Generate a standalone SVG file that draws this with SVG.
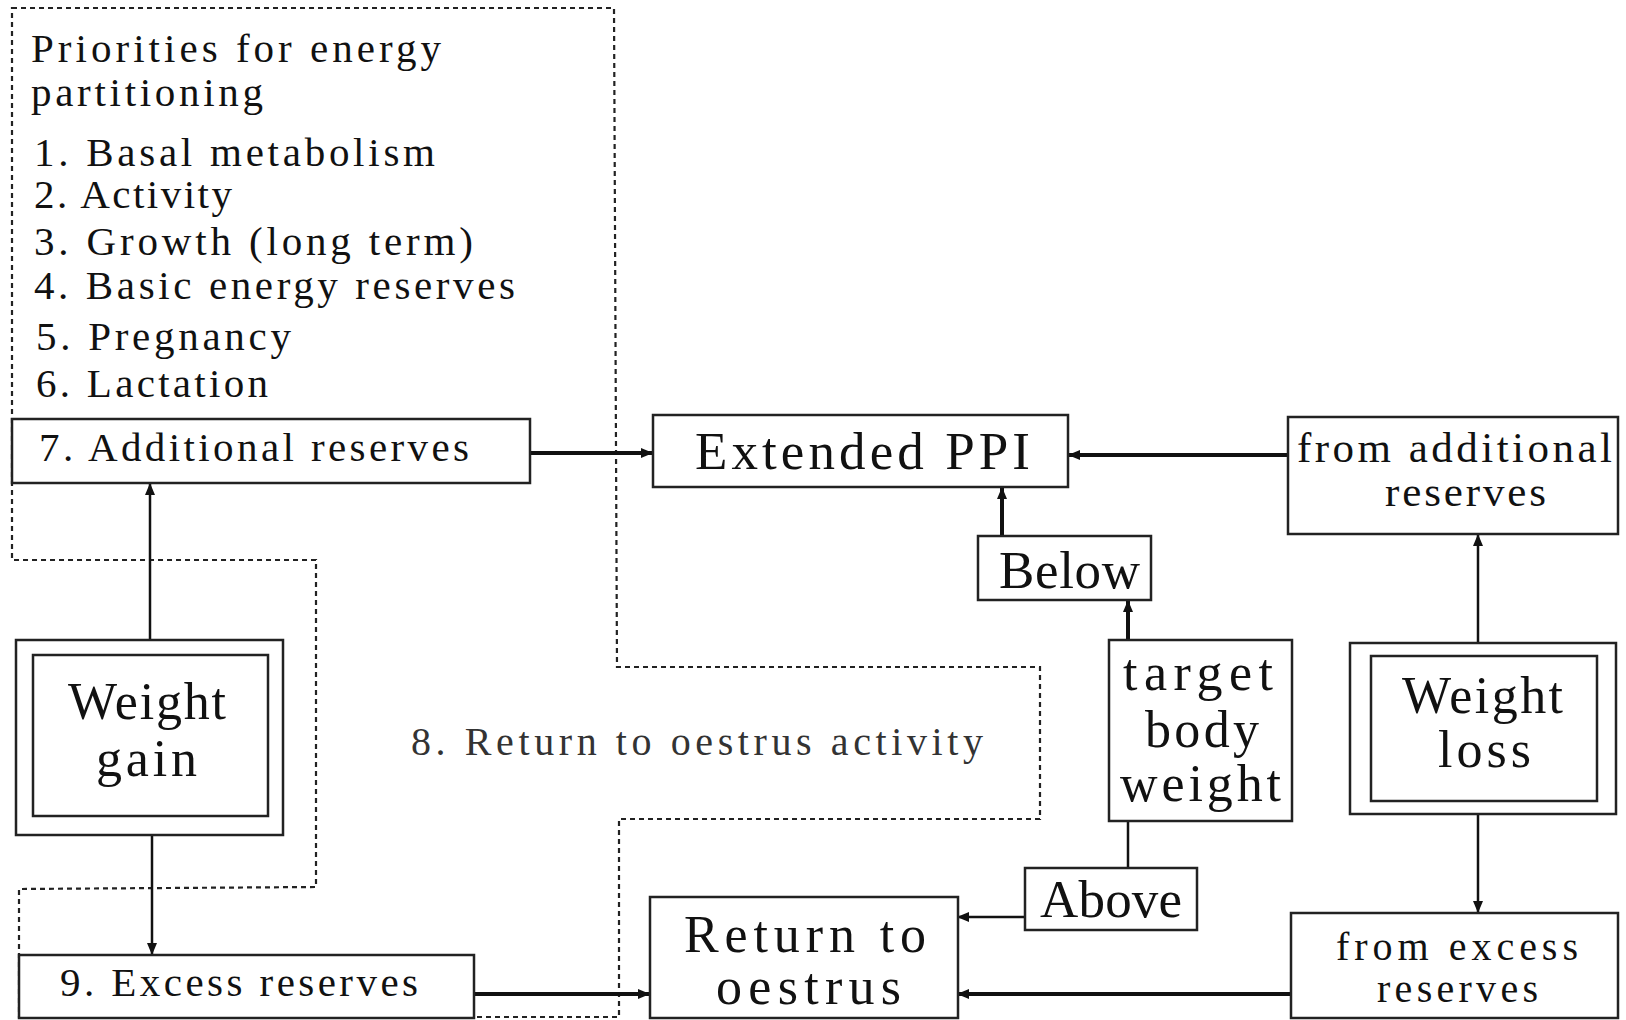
<svg xmlns="http://www.w3.org/2000/svg" width="1626" height="1020" viewBox="0 0 1626 1020">
<defs>
<marker id="ah" viewBox="0 0 12 10" refX="11" refY="5" markerWidth="12" markerHeight="10" markerUnits="userSpaceOnUse" orient="auto">
<path d="M0,0 L12,5 L0,10 Z" fill="#111"/>
</marker>
</defs>
<style>
text{font-family:"Liberation Serif","Times New Roman",serif;fill:#111}
.box{fill:#fff;stroke:#222;stroke-width:2.5}
.dash{fill:none;stroke:#222;stroke-width:2.2;stroke-dasharray:5,4}
.c{fill:none;stroke:#111;stroke-width:2.5;marker-end:url(#ah)}
.ct{fill:none;stroke:#111;stroke-width:4;marker-end:url(#ah)}
.pl{fill:none;stroke:#111;stroke-width:2.5}
.lst{font-size:41px}
.big{font-size:52px}
.mid{font-size:43px}
.sm{font-size:40px}
.xl{font-size:53px}
.lbl8{fill:#333;font-size:40px}
</style>
<rect width="1626" height="1020" fill="#fff"/>

<g id="priorities-region">
<path class="dash" d="M12,8 L614,8 L617,667 L1040,667 L1040,819 L619,819 L619,1017 L19,1017 L19,889 L316,887 L316,560 L12,560 Z"/>
<text class="lst" x="31" y="62" textLength="410" lengthAdjust="spacing">Priorities for energy</text>
<text class="lst" x="31" y="106" textLength="232" lengthAdjust="spacing">partitioning</text>
<text class="lst" x="34" y="166" textLength="401" lengthAdjust="spacing">1. Basal metabolism</text>
<text class="lst" x="34" y="208" textLength="198" lengthAdjust="spacing">2. Activity</text>
<text class="lst" x="34" y="255" textLength="439" lengthAdjust="spacing">3. Growth (long term)</text>
<text class="lst" x="34" y="299" textLength="481" lengthAdjust="spacing">4. Basic energy reserves</text>
<text class="lst" x="36" y="350" textLength="255" lengthAdjust="spacing">5. Pregnancy</text>
<text class="lst" x="36" y="397" textLength="232" lengthAdjust="spacing">6. Lactation</text>
<text class="lbl8" x="411" y="755" textLength="572" lengthAdjust="spacing">8. Return to oestrus activity</text>
</g>

<g id="connectors">
<line class="ct" x1="530" y1="453" x2="652" y2="453"/>
<line class="ct" x1="1288" y1="455" x2="1069" y2="455"/>
<line class="ct" x1="1002" y1="536" x2="1002" y2="488"/>
<line class="ct" x1="1128" y1="640" x2="1128" y2="601"/>
<line class="pl" x1="1128" y1="821" x2="1128" y2="868"/>
<line class="c" x1="1025" y1="917" x2="958" y2="917"/>
<line class="ct" x1="1291" y1="994" x2="958" y2="994"/>
<line class="c" x1="1478" y1="643" x2="1478" y2="535"/>
<line class="c" x1="1478" y1="814" x2="1478" y2="912"/>
<line class="c" x1="150" y1="640" x2="150" y2="484"/>
<line class="c" x1="152" y1="835" x2="152" y2="954"/>
<line class="ct" x1="474" y1="994" x2="649" y2="994"/>
</g>

<g id="additional-reserves">
<rect class="box" x="12" y="419" width="518" height="64"/>
<text class="lst" x="39" y="461" textLength="430" lengthAdjust="spacing">7. Additional reserves</text>
</g>

<g id="extended-ppi">
<rect class="box" x="653" y="415" width="415" height="72"/>
<text class="xl" x="695" y="469" textLength="335" lengthAdjust="spacing">Extended PPI</text>
</g>

<g id="from-additional">
<rect class="box" x="1288" y="417" width="330" height="117"/>
<text class="mid" x="1297" y="462" textLength="315" lengthAdjust="spacing">from additional</text>
<text class="mid" x="1385" y="506" textLength="161" lengthAdjust="spacing">reserves</text>
</g>

<g id="below">
<rect class="box" x="978" y="536" width="173" height="64"/>
<text class="xl" x="999" y="588" textLength="141" lengthAdjust="spacing">Below</text>
</g>

<g id="target-body-weight">
<rect class="box" x="1109" y="640" width="183" height="181"/>
<text class="big" x="1123" y="690" textLength="150" lengthAdjust="spacing">target</text>
<text class="big" x="1145" y="747" textLength="114" lengthAdjust="spacing">body</text>
<text class="big" x="1120" y="801" textLength="161" lengthAdjust="spacing">weight</text>
</g>

<g id="weight-loss">
<rect class="box" x="1350" y="643" width="266" height="171"/>
<rect class="box" x="1371" y="656" width="226" height="145"/>
<text class="big" x="1402" y="713" textLength="161" lengthAdjust="spacing">Weight</text>
<text class="big" x="1438" y="767" textLength="93" lengthAdjust="spacing">loss</text>
</g>

<g id="from-excess">
<rect class="box" x="1291" y="913" width="327" height="105"/>
<text class="sm" x="1336" y="960" textLength="242" lengthAdjust="spacing">from excess</text>
<text class="sm" x="1377" y="1002" textLength="161" lengthAdjust="spacing">reserves</text>
</g>

<g id="above">
<rect class="box" x="1025" y="868" width="172" height="62"/>
<text class="xl" x="1040" y="917" textLength="142" lengthAdjust="spacing">Above</text>
</g>

<g id="return-to-oestrus">
<rect class="box" x="650" y="897" width="308" height="121"/>
<text class="big" x="684" y="952" textLength="242" lengthAdjust="spacing">Return to</text>
<text class="big" x="716" y="1004" textLength="185" lengthAdjust="spacing">oestrus</text>
</g>

<g id="weight-gain">
<rect class="box" x="16" y="640" width="267" height="195"/>
<rect class="box" x="33" y="655" width="235" height="161"/>
<text class="big" x="68" y="719" textLength="158" lengthAdjust="spacing">Weight</text>
<text class="big" x="96" y="776" textLength="101" lengthAdjust="spacing">gain</text>
</g>

<g id="excess-reserves">
<rect class="box" x="19" y="955" width="455" height="63"/>
<text class="lst" x="60" y="996" textLength="358" lengthAdjust="spacing">9. Excess reserves</text>
</g>
</svg>
